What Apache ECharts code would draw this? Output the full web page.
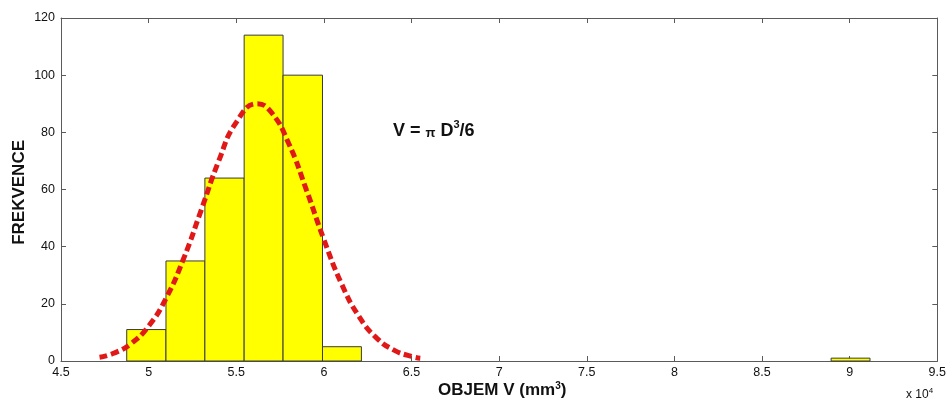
<!DOCTYPE html>
<html><head><meta charset="utf-8">
<script src="https://cdn.jsdelivr.net/npm/echarts@6/dist/echarts.min.js"></script>
<style>html,body{margin:0;padding:0;background:#fff}#c{width:949px;height:403px}</style>
</head><body><div id="c"></div>
<script>
// Histogram bins (x in units of 10^4 mm^3)
const binStart = [4.875, 5.099, 5.321, 5.545, 5.767, 5.992, 8.894];
const binEnd   = [5.099, 5.321, 5.545, 5.767, 5.992, 6.214, 9.116];
const counts   = [11, 35, 64, 114, 100, 5, 1];
// Fitted curve
const curveX = [4.72, 4.8, 4.9, 5.0, 5.1, 5.2, 5.3, 5.4, 5.5, 5.62, 5.7, 5.8, 5.9, 6.0, 6.1, 6.2, 6.3, 6.4, 6.5, 6.55];
const curveY = [1.3, 2.7, 6.1, 12.2, 22.0, 35.9, 52.8, 70.0, 83.5, 90, 87.0, 76.0, 59.9, 42.5, 27.1, 15.6, 8.1, 3.8, 1.6, 1.0];
const xTicks = ['4.5','5','5.5','6','6.5','7','7.5','8','8.5','9','9.5'];
const yTicks = ['0','20','40','60','80','100','120'];

const chart = echarts.init(document.getElementById('c'));
const font = 'Liberation Sans, Arial, sans-serif';
const axisCol = '#5a5a5a';
const common = {
  axisLine: {show: true, onZero: false, lineStyle: {color: axisCol, width: 1}},
  axisTick: {show: true, inside: true, length: 5, lineStyle: {color: axisCol}},
  splitLine: {show: false}
};
chart.setOption({
  animation: false,
  grid: {left: 61, right: 11, top: 18, bottom: 42},
  xAxis: [
    Object.assign({type: 'value', min: 4.5, max: 9.5, interval: 0.5, position: 'bottom',
      axisLabel: {color: '#111', fontFamily: font, fontSize: 12.5, margin: 5,
        formatter: v => xTicks[Math.round((v - 4.5) / 0.5)]}}, common),
    Object.assign({type: 'value', min: 4.5, max: 9.5, interval: 0.5, position: 'top',
      axisLabel: {show: false}}, common)
  ],
  yAxis: [
    Object.assign({type: 'value', min: 0, max: 120, interval: 20, position: 'left',
      axisLabel: {color: '#111', fontFamily: font, fontSize: 12.5, margin: 6,
        formatter: v => yTicks[Math.round(v / 20)]}}, common),
    Object.assign({type: 'value', min: 0, max: 120, interval: 20, position: 'right',
      axisLabel: {show: false}}, common)
  ],
  series: [
    {
      type: 'custom',
      data: counts.map((c, i) => [binStart[i], binEnd[i], c]),
      encode: {x: [0, 1], y: 2},
      renderItem: function (params, api) {
        const p0 = api.coord([api.value(0), 0]);
        const p1 = api.coord([api.value(1), api.value(2)]);
        return {
          type: 'rect',
          shape: {x: p0[0], y: p1[1], width: p1[0] - p0[0], height: p0[1] - p1[1]},
          style: {fill: '#ffff00', stroke: '#3a3a3a', lineWidth: 1}
        };
      },
      z: 2
    },
    {
      type: 'line',
      data: curveX.map((x, i) => [x, curveY[i]]),
      smooth: true,
      showSymbol: false,
      lineStyle: {color: '#e01818', width: 5, type: [8, 4]},
      z: 3
    }
  ],
  graphic: [
    {type: 'text', left: 11, top: 140, rotation: Math.PI / 2, originX: 0, originY: 0,
      style: {text: 'FREKVENCE', fill: '#111', font: 'bold 17px ' + font, textAlign: 'center', textVerticalAlign: 'middle', x: 0, y: 0}},
    {type: 'text', left: 393, top: 119,
      style: {text: '{n|V = }{pi|π}{n| D}{s|3}{n|/6}', fill: '#111',
        rich: {n: {font: 'bold 18px ' + font, fill: '#111', verticalAlign: 'bottom'},
               pi: {font: 'bold 13px ' + font, fill: '#111', verticalAlign: 'bottom'},
               s: {font: 'bold 11px ' + font, fill: '#111', verticalAlign: 'top', padding: [0, 0, 10, 0]}}}},
    {type: 'text', left: 438, top: 381,
      style: {text: '{n|OBJEM V (mm}{s|3}{n|)}', fill: '#111',
        rich: {n: {font: 'bold 17px ' + font, fill: '#111'},
               s: {font: 'bold 10px ' + font, fill: '#111', padding: [0, 0, 9, 0]}}}},
    {type: 'text', left: 906, top: 387,
      style: {text: '{n|x 10}{s|4}', fill: '#111',
        rich: {n: {font: '12px ' + font, fill: '#111'},
               s: {font: '8px ' + font, fill: '#111', padding: [0, 0, 8, 0]}}}}
  ]
});
</script></body></html>
